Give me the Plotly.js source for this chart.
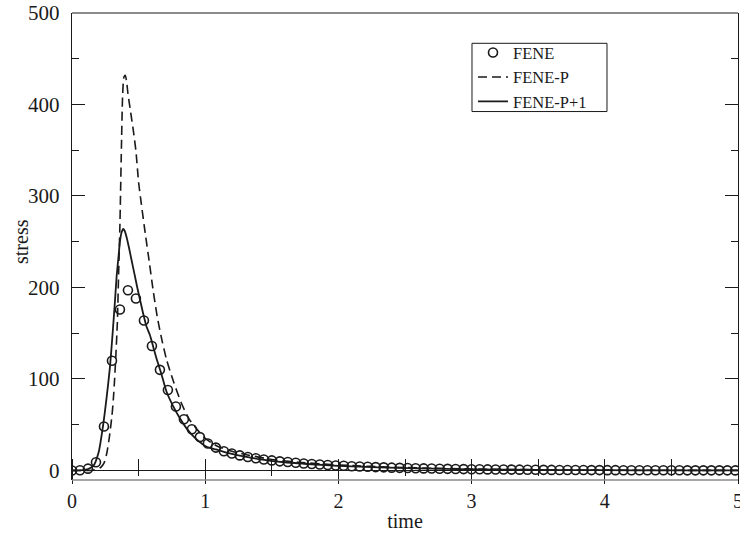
<!DOCTYPE html>
<html>
<head>
<meta charset="utf-8">
<script src="https://cdn.plot.ly/plotly-3.0.1.min.js"></script>
<style>
  html, body { margin: 0; padding: 0; background: #ffffff; }
  #chart { width: 740px; height: 535px; }
</style>
</head>
<body>
<div id="chart"></div>
<script>
// FENE (Brownian dynamics) stress, sampled every 0.06 time units
const feneTime = [
  0.00, 0.06, 0.12, 0.18, 0.24, 0.30, 0.36, 0.42, 0.48, 0.54,
  0.60, 0.66, 0.72, 0.78, 0.84, 0.90, 0.96, 1.02, 1.08, 1.14,
  1.20, 1.26, 1.32, 1.38, 1.44, 1.50, 1.56, 1.62, 1.68, 1.74,
  1.80, 1.86, 1.92, 1.98, 2.04, 2.10, 2.16, 2.22, 2.28, 2.34,
  2.40, 2.46, 2.52, 2.58, 2.64, 2.70, 2.76, 2.82, 2.88, 2.94,
  3.00, 3.06, 3.12, 3.18, 3.24, 3.30, 3.36, 3.42, 3.48, 3.54,
  3.60, 3.66, 3.72, 3.78, 3.84, 3.90, 3.96, 4.02, 4.08, 4.14,
  4.20, 4.26, 4.32, 4.38, 4.44, 4.50, 4.56, 4.62, 4.68, 4.74,
  4.80, 4.86, 4.92, 4.98
];
const feneStress = [
  0.0, 0.3, 2.0, 9.0, 48, 120, 176, 197, 188, 164,
  136, 110, 88, 70, 56, 45, 36.5, 29.5, 25, 21,
  18.5, 16.5, 14.8, 13.3, 12.0, 11.0, 10.0, 9.2, 8.4, 7.7,
  7.1, 6.5, 6.0, 5.5, 5.1, 4.7, 4.3, 4.0, 3.7, 3.4,
  3.1, 2.9, 2.7, 2.5, 2.3, 2.1, 1.95, 1.8, 1.65, 1.5,
  1.4, 1.3, 1.2, 1.1, 1.0, 0.95, 0.9, 0.82, 0.76, 0.7,
  0.65, 0.6, 0.55, 0.5, 0.47, 0.43, 0.4, 0.37, 0.34, 0.31,
  0.29, 0.27, 0.25, 0.23, 0.21, 0.2, 0.18, 0.17, 0.16, 0.15,
  0.14, 0.13, 0.12, 0.11
];

// FENE-P closure
const fenepTime = [
  0.00, 0.10, 0.15, 0.20, 0.22, 0.24, 0.26, 0.28, 0.30, 0.31,
  0.32, 0.33, 0.34, 0.35, 0.36, 0.37, 0.38, 0.39, 0.40, 0.41,
  0.42, 0.44, 0.46, 0.48, 0.50, 0.52, 0.55, 0.58, 0.61, 0.64,
  0.67, 0.71, 0.76, 0.82, 0.88, 0.95, 1.00, 1.05, 1.10, 1.20,
  1.30, 1.50, 1.70, 2.00, 2.50, 3.00, 3.50, 4.00, 4.50, 5.00
];
const fenepStress = [
  0, 0, 0.3, 2, 4, 8, 18, 36, 60, 77,
  100, 128, 160, 215, 270, 345, 410, 430, 432, 425,
  412, 392, 372, 349, 315, 292, 259, 228, 196, 168,
  146, 121, 98, 74, 56, 43, 35, 30, 26, 21,
  17.5, 12, 9, 6, 3.2, 1.6, 0.8, 0.4, 0.2, 0.1
];

// FENE-P+1 closure
const fenep1Time = [
  0.00, 0.08, 0.12, 0.16, 0.20, 0.235, 0.26, 0.285, 0.305, 0.323,
  0.335, 0.35, 0.36, 0.372, 0.385, 0.395, 0.41, 0.43, 0.447, 0.47,
  0.49, 0.51, 0.535, 0.56, 0.585, 0.61, 0.635, 0.67, 0.71, 0.76,
  0.81, 0.86, 0.91, 0.96, 1.01, 1.08, 1.16, 1.25, 1.40, 1.60,
  1.80, 2.00, 2.30, 2.60, 3.00, 3.50, 4.00, 4.50, 5.00
];
const fenep1Stress = [
  0, 0.5, 1.5, 5, 20, 51, 80, 113, 150, 186,
  212, 235, 250, 260, 264, 262, 255, 242, 230, 214,
  200, 187, 171, 157, 148, 135, 122, 106, 86, 70,
  57, 46, 37.5, 31, 26, 23, 19.5, 16.5, 12.5, 9,
  6.8, 5.0, 3.5, 2.4, 1.3, 0.6, 0.3, 0.15, 0.08
];

const seriesNames = ['FENE', 'FENE-P', 'FENE-P+1'];
const xTickVals = [0, 1, 2, 3, 4, 5];
const yTickVals = [0, 100, 200, 300, 400, 500];
const xRange = [0, 5];
const yRange = [-10.4, 500];

const serif = 'Liberation Serif, Times New Roman, serif';
const ink = '#1a1a1a';

const traces = [
  {
    x: feneTime, y: feneStress, name: seriesNames[0],
    type: 'scatter', mode: 'markers',
    marker: { symbol: 'circle-open', size: 9, color: ink, line: { width: 1.6, color: ink } }
  },
  {
    x: fenepTime, y: fenepStress, name: seriesNames[1],
    type: 'scatter', mode: 'lines',
    line: { color: ink, width: 1.6, dash: '9px,5px', shape: 'spline', smoothing: 0.6 }
  },
  {
    x: fenep1Time, y: fenep1Stress, name: seriesNames[2],
    type: 'scatter', mode: 'lines',
    line: { color: ink, width: 1.8, shape: 'spline', smoothing: 0.6 }
  }
];

// time-axis ticks hang from just above stress = 0 and cross the zero line
const tickTop = 13.7;
const tickAxisPos = (tickTop - yRange[0]) / (yRange[1] - yRange[0]);

const layout = {
  width: 740, height: 535,
  margin: { l: 72, r: 2, t: 13, b: 55 },
  paper_bgcolor: '#ffffff', plot_bgcolor: '#ffffff',
  font: { family: serif, size: 20, color: ink },
  showlegend: true,
  xaxis: {
    range: xRange, anchor: 'free', position: tickAxisPos,
    tickmode: 'array', tickvals: xTickVals,
    ticks: 'outside', ticklen: 25, tickwidth: 1, tickcolor: ink,
    minor: { dtick: 0.5, ticks: 'outside', ticklen: 17, tickwidth: 1, tickcolor: ink, showgrid: false },
    showline: false, showgrid: false, zeroline: false,
    ticklabeloverflow: 'allow',
    tickfont: { family: serif, size: 20, color: ink },
    title: { text: 'time', font: { family: serif, size: 20, color: ink }, standoff: 3 }
  },
  yaxis: {
    range: yRange,
    tickmode: 'array', tickvals: yTickVals,
    ticks: 'inside', ticklen: 13, tickwidth: 1, tickcolor: ink,
    minor: { dtick: 50, ticks: 'inside', ticklen: 7, tickwidth: 1, tickcolor: ink, showgrid: false },
    showline: true, linecolor: ink, linewidth: 1.2, mirror: 'ticks',
    showgrid: false,
    zeroline: true, zerolinecolor: ink, zerolinewidth: 1.5,
    ticklabelstandoff: 7,
    tickfont: { family: serif, size: 21, color: ink }
  },
  legend: {
    x: 0.6021, y: 0.9522, xanchor: 'left', yanchor: 'top',
    bgcolor: 'rgba(0,0,0,0)', borderwidth: 0,
    font: { family: serif, size: 16.5, color: ink },
    tracegroupgap: 0
  },
  annotations: [
    { text: 'stress', xref: 'paper', yref: 'paper', x: -0.0766, y: 0.5118,
      xanchor: 'center', yanchor: 'middle', textangle: -90, showarrow: false,
      font: { family: serif, size: 20, color: ink } }
  ],
  shapes: [
    // frame top and bottom edges
    { type: 'line', xref: 'paper', yref: 'paper', x0: 0, x1: 1, y0: 1, y1: 1,
      line: { color: ink, width: 1.2 } },
    { type: 'line', xref: 'paper', yref: 'paper', x0: 0, x1: 1, y0: 0, y1: 0,
      line: { color: '#8a8a8a', width: 1.6 } },
    // legend box
    { type: 'rect', xref: 'paper', yref: 'paper', x0: 0.6006, x1: 0.8033, y0: 0.789, y1: 0.9351,
      line: { color: ink, width: 1 }, fillcolor: 'rgba(0,0,0,0)' }
  ]
};

Plotly.newPlot('chart', traces, layout, { displayModeBar: false, staticPlot: true });
</script>
</body>
</html>
